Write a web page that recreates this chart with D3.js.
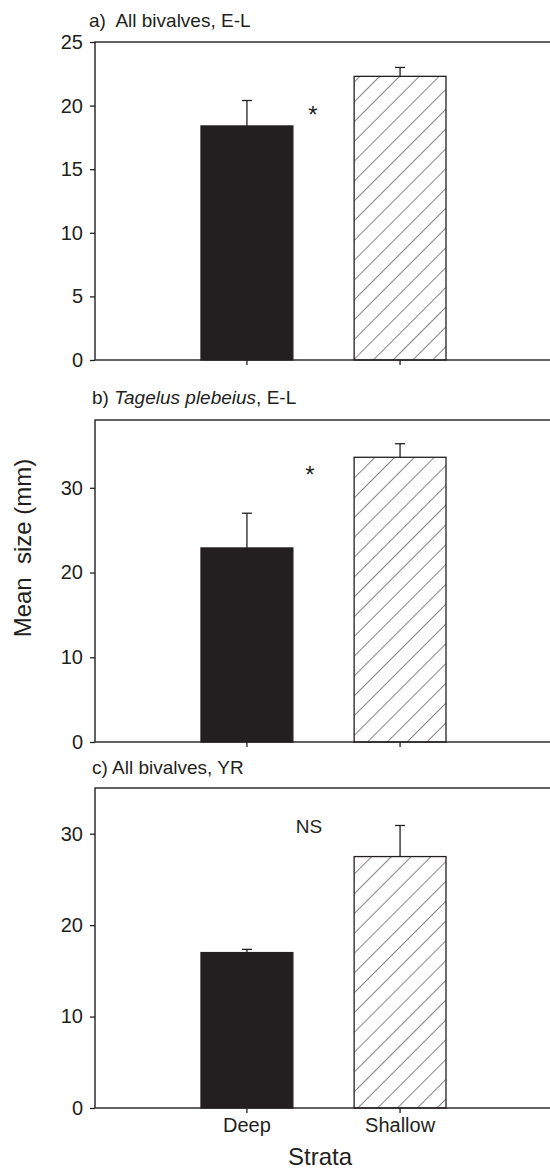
<!DOCTYPE html>
<html>
<head>
<meta charset="utf-8">
<script src="https://cdn.jsdelivr.net/npm/d3@7"></script>
<style>
  html, body { margin: 0; padding: 0; background: #fff; }
  svg { display: block; font-family: "Liberation Sans", Arial, sans-serif; }
</style>
</head>
<body>
<svg id="chart" width="550" height="1170"></svg>
<script>
// Mean shell size by depth stratum, three panels
const strata = ["Deep", "Shallow"];

const meansA = [18.4, 22.3];
const errA   = [2.0, 0.7];
const meansB = [22.9, 33.6];
const errB   = [4.1, 1.6];
const meansC = [17.0, 27.5];
const errC   = [0.35, 3.4];

const ticksA = [0, 5, 10, 15, 20, 25];
const ticksB = [0, 10, 20, 30];
const ticksC = [0, 10, 20, 30];

const maxA = 25, maxB = 38, maxC = 35;
const notes = ["*", "*", "NS"];

const svg = d3.select("#chart");
const ink = "#231f20";

// hatch pattern for shallow bars
const defs = svg.append("defs");
defs.append("pattern")
  .attr("id", "hatch")
  .attr("patternUnits", "userSpaceOnUse")
  .attr("width", 14).attr("height", 14)
  .attr("patternTransform", "rotate(45)")
  .append("line")
  .attr("x1", 0).attr("y1", 0).attr("x2", 0).attr("y2", 14)
  .attr("stroke", ink).attr("stroke-width", 1.1);

const left = 95, right = 552;
const x = d3.scaleBand().domain(strata).range([201, 446]).paddingInner(0.4).paddingOuter(0);

const panels = [
  { top: 42,  bottom: 360,  max: maxA, ticks: ticksA, means: meansA, err: errA, note: notes[0], noteX: 313, noteY: 123, noteSize: 24 },
  { top: 420, bottom: 742,  max: maxB, ticks: ticksB, means: meansB, err: errB, note: notes[1], noteX: 310, noteY: 483, noteSize: 24 },
  { top: 788, bottom: 1108, max: maxC, ticks: ticksC, means: meansC, err: errC, note: notes[2], noteX: 309, noteY: 833, noteSize: 19, xLabels: true }
];

panels.forEach(p => {
  const g = svg.append("g");
  const y = d3.scaleLinear().domain([0, p.max]).range([p.bottom, p.top]);
  const data = strata.map((s, k) => ({ s, m: p.means[k], e: p.err[k] }));

  // bars
  g.selectAll("rect.bar").data(data).join("rect")
    .attr("class", "bar")
    .attr("x", d => x(d.s))
    .attr("width", x.bandwidth())
    .attr("y", d => y(d.m))
    .attr("height", d => y(0) - y(d.m))
    .attr("fill", (d, k) => k === 0 ? ink : "url(#hatch)")
    .attr("stroke", ink)
    .attr("stroke-width", 1.3);

  // upper error bars
  const cx = d => x(d.s) + x.bandwidth() / 2;
  g.selectAll("line.err").data(data).join("line")
    .attr("x1", cx).attr("x2", cx)
    .attr("y1", d => y(d.m)).attr("y2", d => y(d.m + d.e))
    .attr("stroke", ink).attr("stroke-width", 1.3);
  g.selectAll("line.cap").data(data).join("line")
    .attr("x1", d => cx(d) - 5).attr("x2", d => cx(d) + 5)
    .attr("y1", d => y(d.m + d.e)).attr("y2", d => y(d.m + d.e))
    .attr("stroke", ink).attr("stroke-width", 1.3);

  // frame
  g.append("rect")
    .attr("x", left).attr("y", p.top)
    .attr("width", right - left).attr("height", p.bottom - p.top)
    .attr("fill", "none").attr("stroke", ink).attr("stroke-width", 1.4);

  // y axis
  const ya = g.append("g").attr("transform", `translate(${left},0)`)
    .call(d3.axisLeft(y).tickValues(p.ticks).tickSize(5).tickPadding(7).tickFormat(d3.format("d")));
  ya.select(".domain").remove();
  ya.selectAll("line").attr("stroke", ink).attr("stroke-width", 1.3);
  ya.selectAll("text").attr("fill", ink).style("font-size", "20px").style("font-family", "Liberation Sans, Arial, sans-serif");

  // x axis ticks
  const xa = g.append("g").attr("transform", `translate(0,${p.bottom})`)
    .call(d3.axisBottom(x).tickSize(5).tickPadding(5).tickFormat(p.xLabels ? (d => d) : () => ""));
  xa.select(".domain").remove();
  xa.selectAll("line").attr("stroke", ink).attr("stroke-width", 1.3);
  xa.selectAll("text").attr("fill", ink).style("font-size", "20px").style("font-family", "Liberation Sans, Arial, sans-serif");

  // significance note
  g.append("text")
    .attr("x", p.noteX).attr("y", p.noteY)
    .attr("text-anchor", "middle")
    .attr("fill", ink)
    .style("font-size", p.noteSize + "px")
    .text(p.note);
});

// panel titles
const tA = svg.append("text").attr("x", 89).attr("y", 27).attr("fill", ink).style("font-size", "19px")
  .attr("xml:space", "preserve").style("white-space", "pre");
tA.text("a)  All bivalves, E-L");

const tB = svg.append("text").attr("x", 92).attr("y", 404).attr("fill", ink).style("font-size", "19px");
tB.append("tspan").text("b) ");
tB.append("tspan").style("font-style", "italic").text("Tagelus plebeius");
tB.append("tspan").text(", E-L");

const tC = svg.append("text").attr("x", 92).attr("y", 774).attr("fill", ink).style("font-size", "19px");
tC.text("c) All bivalves, YR");

// axis titles
svg.append("text")
  .attr("transform", "translate(31,548) rotate(-90)")
  .attr("text-anchor", "middle")
  .attr("fill", ink)
  .style("font-size", "24px")
  .style("white-space", "pre")
  .attr("xml:space", "preserve")
  .text("Mean  size (mm)");

svg.append("text")
  .attr("x", 320).attr("y", 1165)
  .attr("text-anchor", "middle")
  .attr("fill", ink)
  .style("font-size", "24px")
  .text("Strata");
</script>
</body>
</html>
